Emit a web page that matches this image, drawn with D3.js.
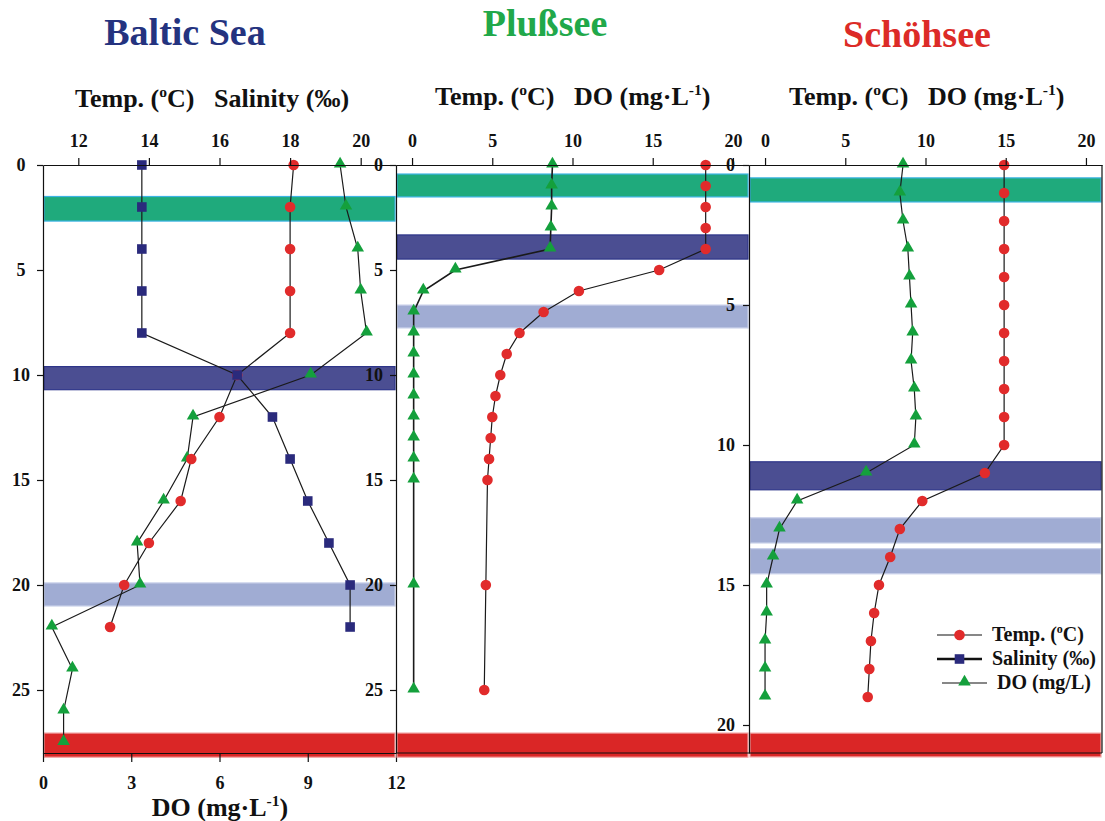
<!DOCTYPE html>
<html><head><meta charset="utf-8">
<script src="https://cdn.jsdelivr.net/npm/d3@7"></script>
<style>
body{margin:0;background:#fff}
svg{display:block;font-family:"Liberation Serif","Times New Roman",serif;font-weight:bold}
svg text{font-family:"Liberation Serif","Times New Roman",serif;font-weight:bold;white-space:pre}
</style></head>
<body><svg id="c" width="1105" height="821"></svg>
<script>
// ---------------- data ----------------
const balticDepth = [0,2,4,6,8,10,12,14,16,18,20,22];
const balticTemp  = [18.1,18.0,18.0,18.0,18.0,16.5,16.0,15.2,14.9,14.0,13.3,12.9];
const balticSal   = [13.8,13.8,13.8,13.8,13.8,16.5,17.5,18.0,18.5,19.1,19.7,19.7];
const balticDODepth = [0,2,4,6,8,10,12,14,16,18,20,22,24,26,27.5];
const balticDO      = [10.1,10.3,10.7,10.8,11.0,9.1,5.1,4.9,4.1,3.2,3.3,0.3,1.0,0.7,0.7];

const plussDepth = [0,1,2,3,4,5,6,7,8,9,10,11,12,13,14,15,20,25];
const plussTemp  = [18.3,18.3,18.3,18.3,18.3,15.4,10.4,8.2,6.7,5.9,5.5,5.2,5.0,4.9,4.8,4.7,4.6,4.5];
const plussDO    = [8.75,8.7,8.7,8.65,8.6,2.7,0.7,0.1,0.1,0.1,0.1,0.1,0.1,0.1,0.1,0.1,0.1,0.1];

const schoDepth = [0,1,2,3,4,5,6,7,8,9,10,11,12,13,14,15,16,17,18,19];
const schoTemp  = [14.9,14.9,14.9,14.9,14.9,14.9,14.9,14.9,14.9,14.9,14.9,13.7,9.8,8.4,7.8,7.1,6.8,6.6,6.5,6.4];
const schoDO    = [8.6,8.4,8.6,8.9,9.0,9.1,9.2,9.1,9.3,9.4,9.3,6.3,2.0,0.9,0.5,0.1,0.1,0.0,0.0,0.0];

// shaded depth bands [top, bottom, type]
const balticBands = [[1.5,2.67,"g"],[9.6,10.7,"d"],[19.9,21.0,"l"],[27.05,28.2,"r"]];
const plussBands  = [[0.43,1.52,"g"],[3.33,4.48,"d"],[6.67,7.76,"l"],[27.05,28.2,"r"]];
const schoBands   = [[0.46,1.32,"g"],[10.6,11.6,"d"],[12.6,13.5,"l"],[13.7,14.6,"l"],[20.29,21.14,"r"]];

const tempTicksBaltic = [12,14,16,18,20];
const tempTicksLake   = [0,5,10,15,20];
const doTicksBaltic   = [0,3,6,9,12];
const depthTicks28    = [0,5,10,15,20,25];
const depthTicks21    = [0,5,10,15,20];

const titles = ["Baltic Sea","Plußsee","Schöhsee"];
const legendLabels = ["Temp. (","Salinity (‰)","DO (mg/L)"];

// ---------------- styles ----------------
const bandFill   = {g:"#1faa7c", d:"#4b4e92", l:"#a0acd3", r:"#da2626"};
const bandStroke = {g:"#3cb4e4", d:"#2d3589", l:"#c9d0ea", r:"#f2a3a3"};
const cTemp = "#e12b2b", cSal = "#2a2a7c", cDO = "#14a03c";

const svg = d3.select("#c");
const Y0 = 165, Y1 = 753;

function band(g, x, y, bands){
  g.selectAll(null).data(bands).join("rect")
    .attr("x", x.range()[0]+1).attr("width", x.range()[1]-x.range()[0]-2)
    .attr("y", d=>y(d[0])).attr("height", d=>y(d[1])-y(d[0]))
    .attr("fill", d=>bandFill[d[2]]).attr("stroke", d=>bandStroke[d[2]]).attr("stroke-width",1.2);
}
function series(g, xs, ys, x, y, kind, color, lw){
  const pts = xs.map((v,i)=>[x(v), y(ys[i])]);
  g.append("path").attr("d", d3.line()(pts)).attr("fill","none").attr("stroke","#1a1a1a").attr("stroke-width",lw||1.2);
  marker(g, pts, kind, color);
}
function marker(g, pts, kind, color){
  const sym = kind==="c" ? d3.symbolCircle : kind==="s" ? d3.symbolSquare : d3.symbolTriangle;
  const size = kind==="c" ? 88 : kind==="s" ? 92 : 68;
  g.selectAll(null).data(pts).join("path")
    .attr("transform", d=>`translate(${d[0]},${d[1] + (kind==="t"? -1:0)})`)
    .attr("d", d3.symbol(sym, size)()).attr("fill", color);
}
function styleAxis(sel, fs){
  sel.attr("font-family",null).attr("font-size",null);
  sel.selectAll("text").attr("font-size", fs||18).attr("fill","#111");
  sel.selectAll("line,path").attr("stroke","#111").attr("stroke-width",1.2);
}
function supText(t, x, y, parts, fs, anchor){
  const tx = t.append("text").attr("x",x).attr("y",y).attr("font-size",fs).attr("text-anchor",anchor||"start").attr("fill","#111");
  parts.forEach(p=>{
    if(p.sup) tx.append("tspan").attr("font-size",fs*0.6).attr("dy",-fs*0.4).text(p.t);
    else if(p.after) tx.append("tspan").attr("dy",fs*0.4).text(p.t);
    else tx.append("tspan").text(p.t);
  });
  return tx;
}

// ---------------- Baltic ----------------
{
  const x = d3.scaleLinear([11,21],[43,396]);
  const xd = d3.scaleLinear([0,12],[43,396]);
  const y = d3.scaleLinear([0,28],[Y0,Y1]);
  const g = svg.append("g");
  band(g, x, y, balticBands);
  series(g, balticDO, balticDODepth, xd, y, "t", cDO);
  series(g, balticTemp, balticDepth, x, y, "c", cTemp);
  series(g, balticSal, balticDepth, x, y, "s", cSal);
  const at = g.append("g").attr("transform",`translate(0,${Y0})`)
    .call(d3.axisTop(x).tickValues(tempTicksBaltic).tickSize(7).tickSizeOuter(0).tickPadding(11));
  styleAxis(at);
  const al = g.append("g").attr("transform",`translate(43,0)`)
    .call(d3.axisLeft(y).tickValues(depthTicks28).tickSize(6).tickSizeOuter(0));
  styleAxis(al);
  al.selectAll("text").attr("text-anchor","middle").attr("x",-22);
  const ab = g.append("g").attr("transform",`translate(0,${Y1})`)
    .call(d3.axisBottom(xd).tickValues(doTicksBaltic).tickSize(9).tickSizeOuter(0));
  styleAxis(ab);
  ab.selectAll("text").attr("y",36).attr("dy",null);
  supText(svg, 75, 107, [{t:"Temp. ("},{t:"o",sup:true},{t:"C)   Salinity (‰)",after:true}], 26);
  supText(svg, 220, 816, [{t:"DO (mg·L"},{t:"-1",sup:true},{t:")",after:true}], 26, "middle");
  svg.append("text").attr("x",185).attr("y",45).attr("text-anchor","middle").attr("font-size",38).attr("fill","#24337f").text(titles[0]);
}

// ---------------- Plußsee ----------------
{
  const x = d3.scaleLinear([-1,21],[396,749]);
  const y = d3.scaleLinear([0,28],[Y0,Y1]);
  const g = svg.append("g");
  band(g, x, y, plussBands);
  series(g, plussDO, plussDepth, x, y, "t", cDO, 1.6);
  series(g, plussTemp, plussDepth, x, y, "c", cTemp);
  const at = g.append("g").attr("transform",`translate(0,${Y0})`)
    .call(d3.axisTop(x).tickValues(tempTicksLake).tickSize(7).tickSizeOuter(0).tickPadding(11));
  styleAxis(at);
  const al = g.append("g").attr("transform",`translate(396,0)`)
    .call(d3.axisLeft(y).tickValues(depthTicks28).tickSize(6).tickSizeOuter(0).tickPadding(7));
  styleAxis(al);
  g.append("line").attr("x1",396).attr("x2",749).attr("y1",Y1).attr("y2",Y1).attr("stroke","#111").attr("stroke-width",1.2);
  supText(svg, 435, 105, [{t:"Temp. ("},{t:"o",sup:true},{t:"C)   DO (mg·L",after:true},{t:"-1",sup:true},{t:")",after:true}], 26);
  svg.append("text").attr("x",545).attr("y",36).attr("text-anchor","middle").attr("font-size",38).attr("fill","#21a84a").text(titles[1]);
}

// ---------------- Schöhsee ----------------
{
  const x = d3.scaleLinear([-1,21],[749,1102]);
  const y = d3.scaleLinear([0,21],[Y0,Y1]);
  const g = svg.append("g");
  band(g, x, y, schoBands);
  series(g, schoDO, schoDepth, x, y, "t", cDO);
  series(g, schoTemp, schoDepth, x, y, "c", cTemp);
  const at = g.append("g").attr("transform",`translate(0,${Y0})`)
    .call(d3.axisTop(x).tickValues(tempTicksLake).tickSize(7).tickSizeOuter(0).tickPadding(11));
  styleAxis(at);
  const al = g.append("g").attr("transform",`translate(749,0)`)
    .call(d3.axisLeft(y).tickValues(depthTicks21).tickSize(6).tickSizeOuter(0).tickPadding(8));
  styleAxis(al);
  g.append("line").attr("x1",749).attr("x2",1102).attr("y1",Y1).attr("y2",Y1).attr("stroke","#111").attr("stroke-width",1.2);
  g.append("line").attr("x1",1102).attr("x2",1102).attr("y1",Y0).attr("y2",Y1).attr("stroke","#111").attr("stroke-width",1.2);
  supText(svg, 789, 105, [{t:"Temp. ("},{t:"o",sup:true},{t:"C)   DO (mg·L",after:true},{t:"-1",sup:true},{t:")",after:true}], 26);
  svg.append("text").attr("x",917).attr("y",47).attr("text-anchor","middle").attr("font-size",38).attr("fill","#dc2b27").text(titles[2]);

  // legend
  const lg = svg.append("g");
  const rows = [
    {y:635, x1:937, x2:982, k:"c", col:cTemp, lw:1.2, tx:992},
    {y:659, x1:937, x2:982, k:"s", col:cSal, lw:2.6, tx:992},
    {y:683, x1:942, x2:987, k:"t", col:cDO, lw:1.2, tx:997}
  ];
  rows.forEach((r,i)=>{
    lg.append("line").attr("x1",r.x1).attr("x2",r.x2).attr("y1",r.y).attr("y2",r.y).attr("stroke","#111").attr("stroke-width",r.lw);
    marker(lg, [[(r.x1+r.x2)/2, r.y]], r.k, r.col);
    if(i===0) supText(lg, r.tx, r.y+6, [{t:legendLabels[0]},{t:"o",sup:true},{t:"C)",after:true}], 20);
    else lg.append("text").attr("x",r.tx).attr("y",r.y+6).attr("font-size",20).attr("fill","#111").text(legendLabels[i]);
  });
}
</script></body></html>
